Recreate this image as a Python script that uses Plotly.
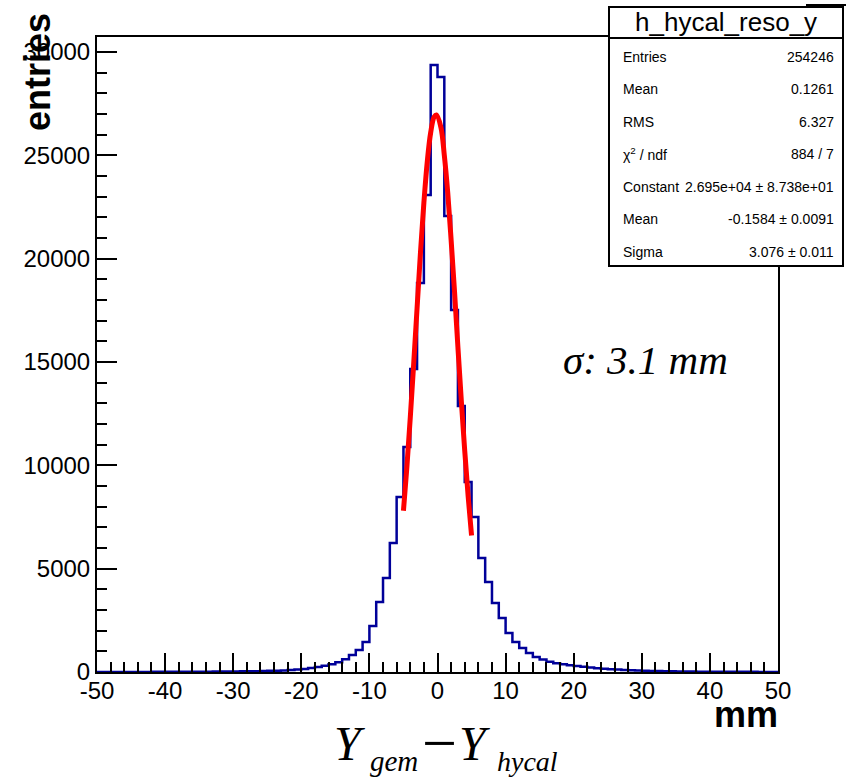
import numpy as np
import plotly.graph_objects as go

# ---------------- data ----------------
bin_low = list(range(-50, 50))  # 1 mm bins from -50 to 50
counts = [
    3, 3, 4, 4, 5, 5, 6, 6, 7, 8,                      # -50..-41
    9, 10, 11, 12, 14, 15, 17, 19, 22, 25,             # -40..-31
    28, 32, 36, 41, 47, 55, 64, 76, 92, 115,           # -30..-21
    150, 190, 240, 300, 380, 470, 620, 820, 1060, 1450,  # -20..-11
    2230, 3390, 4550, 6240, 8470, 10880, 14660, 18820, 23080, 29370,  # -10..-1
    28790, 22060, 17510, 12870, 9190, 7500, 5520, 4350, 3340, 2610,  # 0..9
    1890, 1450, 1160, 920, 730, 600, 500, 420, 370, 325,  # 10..19
    290, 250, 215, 185, 160, 135, 115, 98, 83, 70,      # 20..29
    60, 51, 44, 38, 33, 28, 24, 21, 18, 16,            # 30..39
    12, 11, 10, 9, 8, 7, 7, 6, 6, 5,                   # 40..49
]
bin_width = 1.0

fit_x = [-5, -4.5, -4, -3.5, -3, -2.5, -2, -1.5, -1, -0.5, -0.15, 0.5, 1, 1.5, 2, 2.5, 3, 3.5, 4, 4.5, 5]
fit_y = [7800, 9900, 12300, 14900, 17600, 20300, 22700, 24700, 26100, 26850, 26950,
         26350, 25000, 23200, 20900, 18400, 15700, 13100, 10700, 8500, 6600]

x_tick_vals = [-50, -40, -30, -20, -10, 0, 10, 20, 30, 40, 50]
x_tick_text = ["-50", "-40", "-30", "-20", "-10", "0", "10", "20", "30", "40", "50"]
y_tick_vals = [0, 5000, 10000, 15000, 20000, 25000, 30000]
y_tick_text = ["0", "5000", "10000", "15000", "20000", "25000", "30000"]

stats_title = "h_hycal_reso_y"
stats_labels = ["Entries", "Mean", "RMS", "χ<sup>2</sup> / ndf", "Constant", "Mean", "Sigma"]
stats_values = ["254246", "0.1261", "6.327", "884 / 7", "2.695e+04 ± 8.738e+01",
                "-0.1584 ± 0.0091", "3.076 ± 0.011"]

# ---------------- figure ----------------
W, H = 846, 778
L, R, T, B = 97, 68, 37, 106
PW, PH = W - L - R, H - T - B


def px(x):
    return (x - L) / PW


def py(y):
    return (H - B - y) / PH


edges = [b for b in bin_low] + [bin_low[-1] + bin_width]
step_y = counts + [counts[-1]]

fig = go.Figure()
fig.add_trace(go.Scatter(x=edges, y=step_y, mode="lines", line=dict(shape="hv", color="#000099", width=2.5),
                         hoverinfo="skip", showlegend=False))
fig.add_trace(go.Scatter(x=fit_x, y=fit_y, mode="lines", line=dict(shape="spline", color="#ff0000", width=5),
                         hoverinfo="skip", showlegend=False))

axis_font = dict(family="Liberation Sans, Arial, sans-serif", size=24, color="black")
fig.update_xaxes(range=[-50, 50], tickmode="array", tickvals=x_tick_vals, ticktext=x_tick_text,
                 ticks="inside", ticklen=19, tickwidth=2, tickcolor="black", ticklabelstandoff=-4,
                 minor=dict(dtick=2, tick0=0, ticks="inside", ticklen=10, tickwidth=2, tickcolor="black"),
                 showline=True, linewidth=2, linecolor="black", mirror=True,
                 showgrid=False, zeroline=False, tickfont=axis_font)
fig.update_yaxes(range=[0, 30720], tickmode="array", tickvals=y_tick_vals, ticktext=y_tick_text,
                 ticks="inside", ticklen=20, tickwidth=2, tickcolor="black",
                 minor=dict(dtick=1000, tick0=0, ticks="inside", ticklen=10, tickwidth=2, tickcolor="black"),
                 showline=True, linewidth=2, linecolor="black", mirror=True,
                 showgrid=False, zeroline=False, tickfont=axis_font)

shapes = []
# stats box
shapes.append(dict(type="rect", xref="paper", yref="paper", x0=px(609), x1=px(843), y0=py(266), y1=py(7),
                   line=dict(color="black", width=2), fillcolor="white", layer="above"))
shapes.append(dict(type="line", xref="paper", yref="paper", x0=px(609), x1=px(843), y0=py(38), y1=py(38),
                   line=dict(color="black", width=2), layer="above"))
shapes.append(dict(type="line", xref="paper", yref="paper", x0=px(806), x1=px(846), y0=py(5), y1=py(5),
                   line=dict(color="black", width=2), layer="above"))

annotations = []
sans = "Liberation Sans, Arial, sans-serif"
serif = "Liberation Serif, Times New Roman, serif"


def ann(x, y, text, size, family, xanchor="center", yanchor="middle", angle=0):
    annotations.append(dict(x=px(x), y=py(y), xref="paper", yref="paper", text=text, showarrow=False,
                            xanchor=xanchor, yanchor=yanchor, textangle=angle,
                            font=dict(family=family, size=size, color="black")))


ann(726, 22, stats_title, 26, sans)
row_y = [57, 89, 122, 154, 187, 219, 252]
for lab, val, yy in zip(stats_labels, stats_values, row_y):
    ann(621, yy, lab, 14, sans, xanchor="left")
    ann(836, yy, val, 14, sans, xanchor="right")

ann(37, 72, "<b>entries</b>", 36, sans, angle=-90)
ann(780, 714, "<b>mm</b>", 36, sans, xanchor="right")
ann(645, 360, "<i>σ: 3.1 mm</i>", 41, serif)

# x-axis title built from pieces: Y_gem − Y_hycal
ann(332, 744, "<i>Y</i>", 48, serif, xanchor="left")
ann(368, 761, "<i>gem</i>", 29, serif, xanchor="left")
ann(439, 743, "−", 62, serif)
ann(457, 744, "<i>Y</i>", 48, serif, xanchor="left")
ann(495, 761, "<i>hycal</i>", 28, serif, xanchor="left")

fig.update_layout(width=W, height=H, margin=dict(l=L, r=R, t=T, b=B, autoexpand=False),
                  paper_bgcolor="white", plot_bgcolor="white", shapes=shapes, annotations=annotations,
                  showlegend=False)

fig.write_html("out.html")
